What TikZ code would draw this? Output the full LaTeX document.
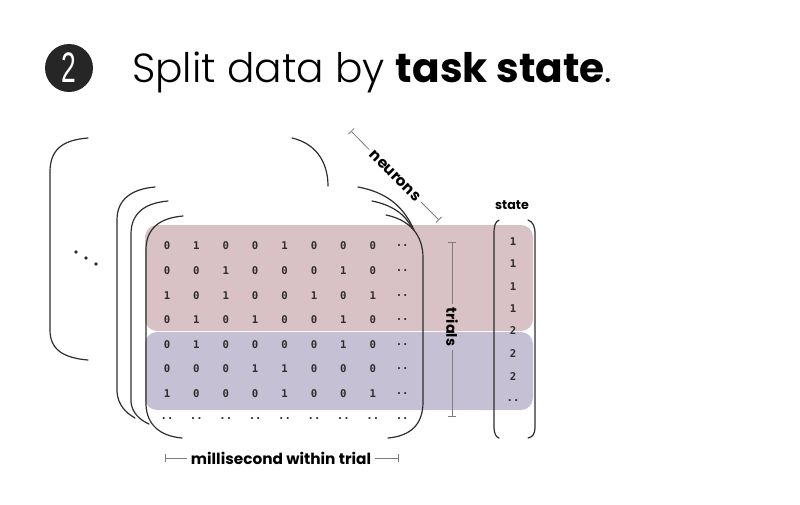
\documentclass[tikz,border=0pt]{standalone}
\usepackage{fontspec}
\setmainfont{Poppins}
\IfFontExistsTF{Poppins Light}{\newfontfamily\lightf{Poppins Light}}{\newfontfamily\lightf{Poppins}}
\newfontfamily\monof{DejaVu Sans Mono}
\newfontfamily\badgef{Liberation Sans}
\usetikzlibrary{arrows.meta}
\definecolor{pinkband}{RGB}{216,194,197}
\definecolor{purpleband}{RGB}{198,192,212}
\definecolor{ink}{RGB}{45,45,45}
\definecolor{barc}{RGB}{125,125,125}
\definecolor{digitc}{RGB}{45,45,45}
\definecolor{badgec}{RGB}{38,38,38}
\begin{document}
\begin{tikzpicture}[x=0.75pt,y=-0.75pt,
  bracket/.style={draw=ink, line width=0.9pt, line cap=round},
  dimA/.style={draw=barc, line width=0.6pt, {Bar[width=6pt,line width=0.6pt]}-},
  dimB/.style={draw=barc, line width=0.6pt, -{Bar[width=6pt,line width=0.6pt]}},
  lbl/.style={font=\fontsize{11.5}{13}\selectfont\bfseries, text=black, inner sep=3pt},
  digit/.style={font=\monof\fontsize{8}{9}\selectfont\bfseries, text=digitc, inner sep=0pt},
  band/.style={rounded corners=9pt}
]
\path[use as bounding box] (0,0) rectangle (800,504);

% title
\node[circle, fill=badgec, minimum size=36pt, inner sep=0pt] (badge) at (69,68)
  {\badgef\fontsize{32}{32}\selectfont\color{white}\scalebox{0.62}[1]{2}};
\node[anchor=base west, inner sep=0pt] (title) at (132,82)
  {\fontsize{30.5}{34}\selectfont{\lightf Split data by }\textbf{task state}{\lightf .}};

% bands
\fill[pinkband, band] (145,225) rectangle (533,331);
\fill[purpleband, band] (145,332) rectangle (533,410);

% farthest layer
\draw[bracket] (88,138) .. controls (62,140) and (50,150) .. (50,172) -- (50,330) .. controls (50,350) and (64,358) .. (88,360);
\draw[bracket] (292,138) .. controls (314,143) and (328,160) .. (328,186);
\foreach \p [count=\i] in {(76,252),(86,258),(96,264)}
  \fill[ink] \p circle[radius=1.4pt];

% back layers
\draw[bracket] (155,187) .. controls (132,189) and (117,199) .. (117,220) -- (117,392) .. controls (118,405) and (126,413) .. (135,418);
\draw[bracket] (168,201) .. controls (145,203) and (131,213) .. (131,234) -- (131,402) .. controls (132,413) and (140,420) .. (149,424);
\draw[bracket] (358,187) .. controls (385,192) and (403,205) .. (414,230);
\draw[bracket] (372,201) .. controls (392,205) and (405,214) .. (412,228);

% front layer
\draw[bracket] (183,216) .. controls (160,218) and (146,228) .. (146,250) -- (146,405) .. controls (147,425) and (160,436) .. (182,438);
\draw[bracket] (386,215) .. controls (410,220) and (423,235) .. (423,258) -- (423,402) .. controls (423,425) and (410,436) .. (388,438);

% matrix digits
\foreach \row [count=\r] in {
  {0,1,0,0,1,0,0,0,..},
  {0,0,1,0,0,0,1,0,..},
  {1,0,1,0,0,1,0,1,..},
  {0,1,0,1,0,0,1,0,..},
  {0,1,0,0,0,0,1,0,..},
  {0,0,0,1,1,0,0,0,..},
  {1,0,0,0,1,0,0,1,..},
  {..,..,..,..,..,..,..,..,..}} {
  \foreach \v [count=\c] in \row {
    \node[digit] (m-\r-\c) at ({167+29.4*(\c-1)},{246+24.6*(\r-1)}) {\v};
  }
}

% state column
\node[lbl, font=\fontsize{9.5}{11}\selectfont\bfseries, inner sep=0pt] (state) at (512,205) {state};
\draw[bracket] (499,220) .. controls (495,222) and (494,226) .. (494,234) -- (494,426) .. controls (494,434) and (496,437) .. (499,438);
\draw[bracket] (528,220) .. controls (533,222) and (535,226) .. (535,234) -- (535,426) .. controls (535,434) and (533,437) .. (528,438);
\foreach \v/\y [count=\i] in {1/242,1/264,1/287,1/309,2/331,2/354,2/377,../401}
  \node[digit] (s-\i) at (513,\y) {\v};

% dimension labels
\coordinate (nA) at (351,131);
\coordinate (nB) at (439,220);
\node[lbl, rotate=-45] (neurons) at (395,176) {neurons};
\draw[dimA] (nA) -- (neurons);
\draw[dimB] (neurons) -- (nB);

\coordinate (tA) at (452,242);
\coordinate (tB) at (452,417);
\node[lbl, font=\fontsize{10.8}{12}\selectfont\bfseries, rotate=-90] (trials) at (452,327) {trials};
\draw[dimA] (tA) -- (trials);
\draw[dimB] (trials) -- (tB);

\coordinate (mA) at (165,458);
\coordinate (mB) at (399,458);
\node[lbl] (ms) at (281,458) {millisecond within trial};
\draw[dimA] (mA) -- (ms);
\draw[dimB] (ms) -- (mB);
\end{tikzpicture}
\end{document}
